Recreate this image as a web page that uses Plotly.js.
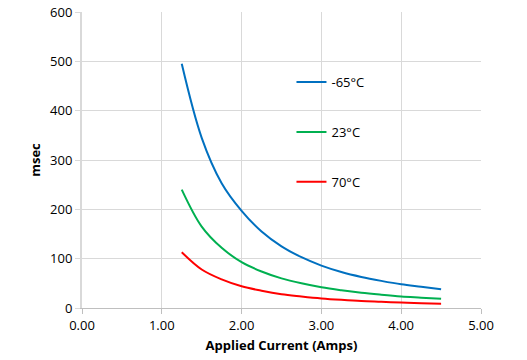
<!DOCTYPE html>
<html><head><meta charset="utf-8">
<script src="https://cdn.plot.ly/plotly-3.0.1.min.js"></script>
<style>html,body{margin:0;padding:0;background:#fff}#chart{width:527px;height:360px}</style>
</head><body><div id="chart"></div>
<script>
const current = [1.25,1.5,1.75,2.0,2.25,2.5,2.75,3.0,3.25,3.5,3.75,4.0,4.25,4.5];
const seriesNames = ['-65°C','23°C','70°C'];
const msecMinus65 = [495,345,253,197,155,125,103,86,73,63,55,48,43,38];
const msec23 = [240,165,122,93,74,60,50,42,36,31,27,23.5,21,18.5];
const msec70 = [113,78,58,44,35,28,23.5,19.5,16.5,14,12.5,11,9.5,8.5];
const colors = ['#0070c0','#00b050','#ff0000'];
const xTicks = [0,1,2,3,4,5];
const xTickText = ['0.00','1.00','2.00','3.00','4.00','5.00'];

const ys = [msecMinus65, msec23, msec70];
const traces = ys.map((y,i)=>({
  x: current, y: y, type:'scatter', mode:'lines', name: seriesNames[i],
  line:{color:colors[i], width:2, shape:'spline'}, legendgroup:'g'+i
}));

const font = {family:'Open Sans, Liberation Sans, sans-serif', size:13, color:'#000'};
Plotly.newPlot('chart', traces, {
  width:527, height:360,
  margin:{l:82, r:46, t:12, b:52},
  paper_bgcolor:'#fff', plot_bgcolor:'#fff',
  font: font,
  showlegend:true,
  legend:{x:0.525, y:0.814, xanchor:'left', yanchor:'top', bgcolor:'rgba(0,0,0,0)',
          tracegroupgap:30, font:{family:font.family, size:13, color:'#000'}},
  xaxis:{range:[0,5], tickvals:xTicks, ticktext:xTickText, showgrid:true, gridcolor:'#d9d9d9',
         zeroline:false, showline:true, linecolor:'#bfbfbf', linewidth:1, mirror:false,
         ticks:'outside', ticklen:5, tickcolor:'#bfbfbf',
         title:{text:'<b>Applied Current (Amps)</b>', font:{family:font.family,size:13}, standoff:8}},
  yaxis:{range:[0,600], dtick:100, showgrid:true, gridcolor:'#d9d9d9', zeroline:false,
         showline:true, linecolor:'#d9d9d9', linewidth:2, ticks:'outside', ticklen:5, tickcolor:'#d9d9d9',
         title:{text:'<b>msec</b>', font:{family:font.family,size:13}, standoff:7}}
}, {displayModeBar:false, staticPlot:true});
</script></body></html>
